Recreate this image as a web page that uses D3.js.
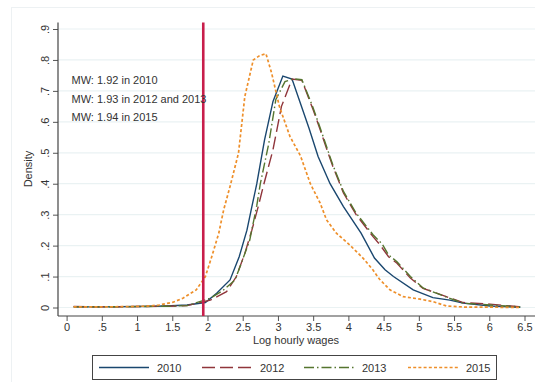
<!DOCTYPE html>
<html>
<head>
<meta charset="utf-8">
<script src="https://cdn.jsdelivr.net/npm/d3@7"></script>
<style>
  html, body { margin: 0; padding: 0; background: #fff; }
  svg { display: block; font-family: "Liberation Sans", Arial, sans-serif; }
</style>
</head>
<body>
<svg id="chart" width="535" height="382"></svg>
<script>
// Kernel density estimates of log hourly wages, [log wage, density]
const years = ["2010", "2012", "2013", "2015"];
const density2010 = [
  [0.10,0.002],[0.50,0.002],[1.01,0.003],[1.41,0.005],[1.71,0.008],[1.97,0.016],
  [2.13,0.046],[2.32,0.089],[2.45,0.164],[2.56,0.25],[2.63,0.326],[2.70,0.40],
  [2.81,0.542],[2.93,0.666],[3.07,0.748],[3.20,0.738],[3.44,0.58],[3.57,0.488],
  [3.74,0.40],[3.93,0.326],[4.18,0.24],[4.37,0.16],[4.52,0.122],[4.64,0.10],
  [4.92,0.057],[5.20,0.032],[5.44,0.024],[5.63,0.014],[6.01,0.005],[6.44,0.001]
];
const density2012 = [
  [0.10,0.003],[0.50,0.002],[1.01,0.003],[1.41,0.004],[1.71,0.006],[2.04,0.024],
  [2.27,0.051],[2.41,0.10],[2.53,0.175],[2.63,0.25],[2.72,0.326],[2.79,0.39],
  [2.93,0.51],[3.05,0.65],[3.20,0.738],[3.34,0.734],[3.50,0.639],[3.60,0.574],
  [3.71,0.50],[3.78,0.456],[3.93,0.37],[4.11,0.30],[4.35,0.229],[4.44,0.205],
  [4.57,0.164],[4.69,0.143],[4.88,0.095],[5.06,0.062],[5.39,0.035],[5.63,0.016],
  [6.01,0.011],[6.44,0.002]
];
const density2013 = [
  [0.10,0.002],[0.50,0.002],[1.01,0.003],[1.41,0.004],[1.71,0.006],[2.04,0.03],
  [2.22,0.055],[2.39,0.089],[2.48,0.143],[2.60,0.218],[2.70,0.33],[2.75,0.40],
  [2.87,0.53],[2.97,0.672],[3.10,0.73],[3.22,0.739],[3.34,0.736],[3.50,0.645],
  [3.60,0.58],[3.78,0.46],[3.93,0.375],[4.11,0.305],[4.35,0.235],[4.48,0.205],
  [4.57,0.17],[4.69,0.148],[4.88,0.10],[5.06,0.063],[5.39,0.034],[5.63,0.014],
  [6.01,0.008],[6.44,0.002]
];
const density2015 = [
  [0.10,0.002],[0.50,0.002],[0.91,0.003],[1.18,0.005],[1.31,0.008],[1.51,0.017],
  [1.65,0.03],[1.84,0.057],[1.97,0.10],[2.06,0.164],[2.16,0.24],[2.23,0.316],
  [2.32,0.391],[2.44,0.499],[2.53,0.682],[2.65,0.80],[2.74,0.814],[2.83,0.82],
  [2.91,0.758],[3.02,0.65],[3.17,0.553],[3.32,0.49],[3.46,0.40],[3.60,0.337],
  [3.69,0.283],[3.83,0.24],[4.02,0.202],[4.21,0.159],[4.35,0.121],[4.44,0.092],
  [4.59,0.057],[4.78,0.035],[5.02,0.027],[5.20,0.019],[5.39,0.005],[5.67,0.001],
  [6.05,0.001],[6.44,0.0]
];
const xTicks = [0,0.5,1,1.5,2,2.5,3,3.5,4,4.5,5,5.5,6,6.5];
const xTickLabels = ["0",".5","1","1.5","2","2.5","3","3.5","4","4.5","5","5.5","6","6.5"];
const yTicks = [0,0.1,0.2,0.3,0.4,0.5,0.6,0.7,0.8,0.9];
const yTickLabels = ["0",".1",".2",".3",".4",".5",".6",".7",".8",".9"];
const minimumWage = 1.94;
const notes = ["MW: 1.92 in 2010", "MW: 1.93 in 2012 and 2013", "MW: 1.94 in 2015"];

const seriesData = [density2010, density2012, density2013, density2015];
const colors = ["#1a476f", "#90353b", "#55752f", "#ee8f2a"];
const dashes = [null, "13,5", "10,3,1.5,3", "3,2.2"];

const svg = d3.select("#chart");

// faint outer graph frame
svg.append("rect").attr("x", 11.5).attr("y", 7.5).attr("width", 540).attr("height", 400)
  .attr("fill", "none").attr("stroke", "#edf1f3");

const x = d3.scaleLinear().domain([0, 6.5]).range([66.6, 524.5]);
const y = d3.scaleLinear().domain([0, 0.9]).range([307.5, 29]);
const axisX = 58, axisY = 316, plotTop = 22.5, plotRight = 535;

// grid lines
svg.append("g").selectAll("line").data(yTicks.slice(1)).join("line")
  .attr("x1", axisX).attr("x2", plotRight)
  .attr("y1", d => y(d)).attr("y2", d => y(d))
  .attr("stroke", "#eaf2f3").attr("stroke-width", 1.2);
svg.append("line").attr("x1", axisX).attr("x2", plotRight)
  .attr("y1", y(0)).attr("y2", y(0)).attr("stroke", "#eaf2f3").attr("stroke-width", 1.2);

// y axis
const yAxis = svg.append("g").attr("transform", `translate(${axisX},0)`)
  .call(d3.axisLeft(y).tickValues(yTicks).tickSize(5).tickFormat((d, i) => yTickLabels[i]));
yAxis.select(".domain").remove();
yAxis.selectAll(".tick line").attr("stroke", "#555");
yAxis.selectAll(".tick text")
  .attr("x", null).attr("dy", null)
  .attr("text-anchor", "middle")
  .attr("transform", "translate(-9,0) rotate(-90)")
  .attr("font-size", 11).attr("fill", "#333")
  .attr("font-family", "Liberation Sans, Arial, sans-serif");
svg.append("line").attr("x1", axisX).attr("x2", axisX).attr("y1", plotTop).attr("y2", axisY)
  .attr("stroke", "#444").attr("stroke-width", 1.2);

// x axis
const xAxis = svg.append("g").attr("transform", `translate(0,${axisY})`)
  .call(d3.axisBottom(x).tickValues(xTicks).tickSize(5).tickFormat((d, i) => xTickLabels[i]));
xAxis.select(".domain").remove();
xAxis.selectAll(".tick line").attr("stroke", "#555");
xAxis.selectAll(".tick text")
  .attr("y", 14.5).attr("dy", null)
  .attr("font-size", 11).attr("fill", "#333")
  .attr("font-family", "Liberation Sans, Arial, sans-serif");
svg.append("line").attr("x1", axisX).attr("x2", plotRight).attr("y1", axisY).attr("y2", axisY)
  .attr("stroke", "#444").attr("stroke-width", 1.2);

// axis titles
svg.append("text").attr("x", 296).attr("y", 344).attr("text-anchor", "middle")
  .attr("font-size", 11).attr("fill", "#333").text("Log hourly wages");
svg.append("text").attr("transform", "translate(32,169) rotate(-90)")
  .attr("text-anchor", "middle").attr("font-size", 11).attr("fill", "#333").text("Density");

// density curves
const line = d3.line().x(d => x(d[0])).y(d => y(d[1]));
svg.append("g").selectAll("path").data(seriesData).join("path")
  .attr("d", line)
  .attr("fill", "none")
  .attr("stroke", (d, i) => colors[i])
  .attr("stroke-width", (d, i) => i === 3 ? 1.7 : 1.4)
  .attr("stroke-dasharray", (d, i) => dashes[i]);

// minimum wage marker
svg.append("line").attr("x1", x(minimumWage)).attr("x2", x(minimumWage))
  .attr("y1", plotTop).attr("y2", axisY)
  .attr("stroke", "#c81e4b").attr("stroke-width", 2.6);

// notes
svg.append("g").selectAll("text").data(notes).join("text")
  .attr("x", x(0.07)).attr("y", (d, i) => y(0.722 - i * 0.0598))
  .attr("font-size", 11).attr("fill", "#333").text(d => d);

// legend
const legend = svg.append("g");
legend.append("rect").attr("x", 92.5).attr("y", 355.5).attr("width", 404).attr("height", 24)
  .attr("fill", "#fff").attr("stroke", "#444").attr("stroke-width", 1);
const legendStarts = [99, 202, 304, 408];
years.forEach((yr, i) => {
  legend.append("line").attr("x1", legendStarts[i]).attr("x2", legendStarts[i] + 50)
    .attr("y1", 367.5).attr("y2", 367.5)
    .attr("stroke", colors[i]).attr("stroke-width", i === 3 ? 1.7 : 1.4)
    .attr("stroke-dasharray", dashes[i]);
  legend.append("text").attr("x", legendStarts[i] + 58).attr("y", 371.5)
    .attr("font-size", 11).attr("fill", "#333").text(yr);
});
</script>
</body>
</html>
